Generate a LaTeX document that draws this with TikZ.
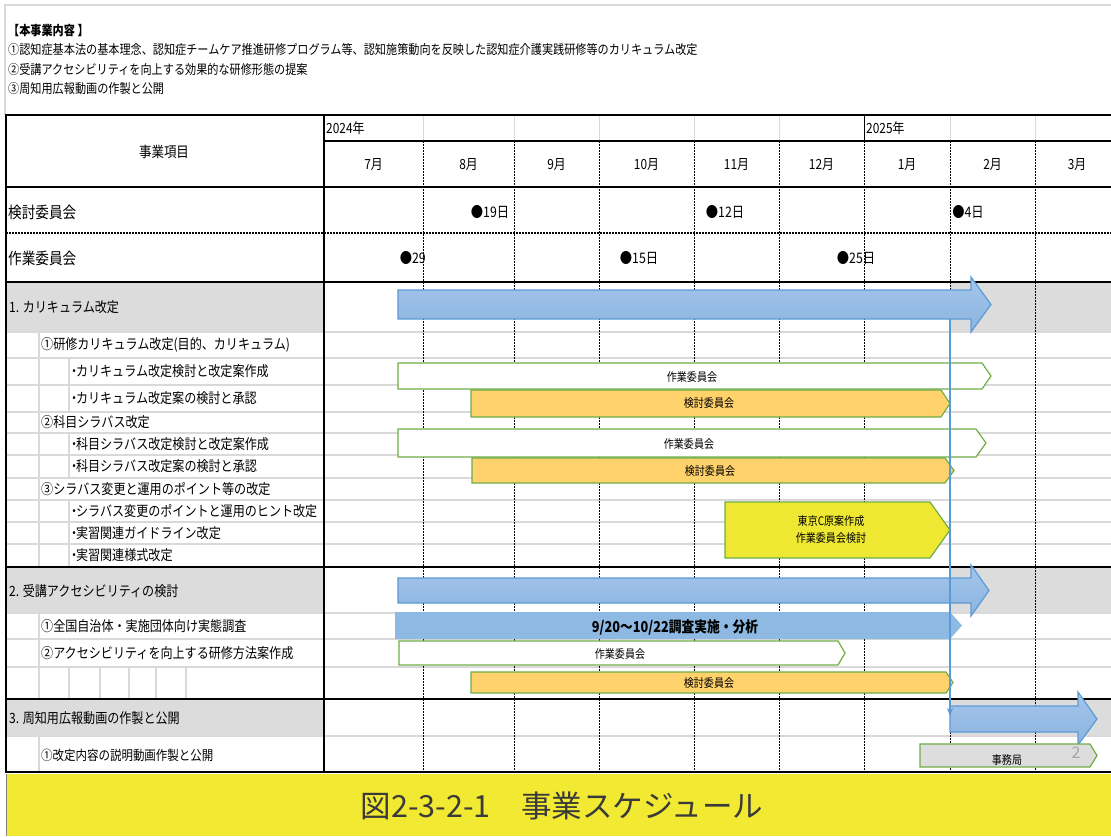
\documentclass[tikz,border=0pt]{standalone}
\usepackage{fontspec}
\setmainfont{Noto Sans CJK JP}
\newfontfamily\jp{Noto Sans CJK JP}[FakeStretch=0.85]
\newfontfamily\jpcap{Noto Sans CJK JP}
\usetikzlibrary{arrows.meta}
\definecolor{lgray}{HTML}{D9D9D9}
\definecolor{bandc}{HTML}{DCDCDC}
\definecolor{bblue}{HTML}{5B9BD5}
\definecolor{fblue}{HTML}{A3C6EA}
\definecolor{fblue2}{HTML}{8CB3E0}
\definecolor{sblue}{HTML}{8DB9E3}
\definecolor{gborder}{HTML}{70AD47}
\definecolor{orng}{HTML}{FFD26B}
\definecolor{ylw}{HTML}{EEE833}
\definecolor{capy}{HTML}{F2E933}
\definecolor{bgray}{HTML}{DDDDDD}
\definecolor{captxt}{HTML}{3A3A3A}
\newcommand{\gpent}[6]{\path[#1] (#2,#5) -- (#3,#5) -- (#4,{(#5+#6)/2}) -- (#3,#6) -- (#2,#6) -- cycle;}
\newcommand{\garrow}[8]{\path[#1] (#2,#5) -- (#3,#5) -- (#3,#7) -- (#4,{(#5+#6)/2}) -- (#3,#8) -- (#3,#6) -- (#2,#6) -- cycle;}
\newcommand{\bul}{・\hspace{-0.3em}}
\tikzset{
  hdr/.style={anchor=west, inner sep=0pt, font=\jp\fontsize{13.1}{15}\selectfont},
  hdrb/.style={anchor=west, inner sep=0pt, font=\jp\bfseries\fontsize{13.1}{15}\selectfont},
  lbl/.style={anchor=west, inner sep=0pt, font=\jp\fontsize{14.2}{16}\selectfont},
  lblS/.style={anchor=west, inner sep=0pt, font=\jp\fontsize{13.5}{16}\selectfont},
  lblB/.style={anchor=west, inner sep=0pt, font=\jp\fontsize{16}{18}\selectfont},
  mon/.style={inner sep=0pt, font=\jp\fontsize{14}{16}\selectfont},
  dat/.style={inner sep=0pt, font=\jp\fontsize{14.5}{16}\selectfont},
  barlbl/.style={inner sep=0pt, align=center, font=\jp\fontsize{11.8}{17}\selectfont},
  barlblb/.style={inner sep=0pt, font=\jp\bfseries\fontsize{15}{17}\selectfont},
  rowline/.style={draw=lgray, line width=2pt},
  vline/.style={draw=lgray, line width=1.5pt},
  mdash/.style={draw=black, line width=0.8pt, dash pattern=on 2pt off 1pt},
  thk/.style={draw=black, line width=2.5pt},
  wbar/.style={fill=white, draw=gborder, line width=1.2pt},
  obar/.style={fill=orng, draw=gborder, line width=1.2pt},
  ybar/.style={fill=ylw, draw=gborder, line width=1.2pt},
  gbar/.style={fill=bgray, draw=gborder, line width=1.2pt},
  sbar/.style={fill=sblue},
  bluearrow/.style={top color=fblue, bottom color=fblue2, draw=bblue, line width=1.2pt},
  conn/.style={draw=bblue, line width=1.6pt, -{Stealth[length=8pt,width=6pt]}},
}
\begin{document}
\begin{tikzpicture}[x=1pt,y=-1pt]
\useasboundingbox (0,0) rectangle (1111,836);
\fill[white] (0,0) rectangle (1111,836);
% top frame
\draw[lgray, line width=1.5pt] (5,115) -- (5,5) -- (1111,5);
% header text
\node[hdrb] (h0) at (8,31) {【本事業内容 】};
\node[hdr] (h1) at (8,50) {①認知症基本法の基本理念、認知症チームケア推進研修プログラム等、認知施策動向を反映した認知症介護実践研修等のカリキュラム改定};
\node[hdr] (h2) at (8,70) {②受講アクセシビリティを向上する効果的な研修形態の提案};
\node[hdr] (h3) at (8,89) {③周知用広報動画の作製と公開};
% bands
\fill[bandc] (6,282) rectangle (324,332); \fill[bandc] (950,282) rectangle (1111,332);
\fill[bandc] (6,567) rectangle (324,613); \fill[bandc] (950,567) rectangle (1111,613);
\fill[bandc] (6,699) rectangle (324,736); \fill[bandc] (950,699) rectangle (1111,736);
% light row lines
\foreach \y in {332,358,385,412,433,455,478,500,522,544,613,639,667,736}
  \draw[rowline] (6,\y) -- (1111,\y);
\draw[vline] (39,332) -- (39,567);
\draw[vline] (69,358) -- (69,412);
\draw[vline] (69,433) -- (69,478);
\draw[vline] (69,500) -- (69,567);
\draw[vline] (39,613) -- (39,699);
\foreach \x in {69,100,129,156,186} \draw[vline] (\x,667) -- (\x,699);
\draw[vline] (39,736) -- (39,772);
% year row verticals
\foreach \x in {423,514,599,694,779,950,1035} \draw[lgray, line width=0.8pt] (\x,115) -- (\x,141);
\draw[black, line width=0.8pt] (864,115) -- (864,141);
% month dashed verticals
\foreach \x in {423,514,599,694,779,864,950,1035} \draw[mdash] (\x,141) -- (\x,772);
% thick lines
\draw[thk] (4.75,115) -- (1111,115);
\draw[black, line width=1.8pt] (324,141) -- (1111,141);
\draw[thk] (6,187) -- (1111,187);
\draw[black, line width=1.8pt, dash pattern=on 2pt off 1pt] (6,233) -- (1111,233);
\draw[thk] (6,282) -- (1111,282);
\draw[thk] (6,567) -- (1111,567);
\draw[thk] (6,699) -- (1111,699);
\draw[thk] (4.75,772) -- (1111,772);
\draw[thk] (6,115) -- (6,772);
\draw[thk] (324,115) -- (324,772);
% header cells
\node[lbl, anchor=center, font=\jp\fontsize{14.7}{16}\selectfont] (colh) at (164,152) {事業項目};
\node[lbl, font=\jp\fontsize{14}{16}\selectfont] (y24) at (326,128) {2024年};
\node[lbl, font=\jp\fontsize{14}{16}\selectfont] (y25) at (866,128) {2025年};
\node[mon] (m7) at (373.5,165) {7月};
\node[mon] (m8) at (468.5,165) {8月};
\node[mon] (m9) at (556.5,165) {9月};
\node[mon] (m10) at (646.5,165) {10月};
\node[mon] (m11) at (736.5,165) {11月};
\node[mon] (m12) at (821.5,165) {12月};
\node[mon] (m1) at (907,165) {1月};
\node[mon] (m2) at (992.5,165) {2月};
\node[mon] (m3) at (1077,165) {3月};
% committee rows
\node[lblB] (kentou) at (8,212) {検討委員会};
\node[lblB] (sagyou) at (8,258) {作業委員会};
\node[dat] (d1) at (490,212) {●19日};
\node[dat] (d2) at (725,212) {●12日};
\node[dat] (d3) at (968,212) {●4日};
\node[dat, anchor=east] (d4) at (426,258) {●29};
\node[dat] (d5) at (639,258) {●15日};
\node[dat] (d6) at (856,258) {●25日};
% left column labels
\node[lbl] (s1) at (9,307) {1. カリキュラム改定};
\node[lbl] (s1a) at (41,345) {①研修カリキュラム改定(目的、カリキュラム)};
\node[lbl] (s1a1) at (68,371.5) {\bul カリキュラム改定検討と改定案作成};
\node[lbl] (s1a2) at (68,398) {\bul カリキュラム改定案の検討と承認};
\node[lbl] (s1b) at (41,422) {②科目シラバス改定};
\node[lbl] (s1b1) at (68,444) {\bul 科目シラバス改定検討と改定案作成};
\node[lbl] (s1b2) at (68,466.5) {\bul 科目シラバス改定案の検討と承認};
\node[lbl] (s1c) at (41,489) {③シラバス変更と運用のポイント等の改定};
\node[lbl] (s1c1) at (68,511) {\bul シラバス変更のポイントと運用のヒント改定};
\node[lbl] (s1c2) at (68,533) {\bul 実習関連ガイドライン改定};
\node[lbl] (s1c3) at (68,555.5) {\bul 実習関連様式改定};
\node[lbl] (s2) at (9,591) {2. 受講アクセシビリティの検討};
\node[lbl] (s2a) at (41,626) {①全国自治体・実施団体向け実態調査};
\node[lbl] (s2b) at (41,653) {②アクセシビリティを向上する研修方法案作成};
\node[lbl] (s3) at (9,718) {3. 周知用広報動画の作製と公開};
\node[lblS] (s3a) at (41,755) {①改定内容の説明動画作製と公開};
% bars
\garrow{bluearrow}{398}{971}{991}{290}{319}{277}{332}
\gpent{wbar}{398}{982}{991}{363}{389}
\gpent{obar}{471}{941}{950}{390}{417}
\gpent{wbar}{398}{976}{986}{429}{457}
\gpent{obar}{472}{945}{954}{458}{483}
\gpent{ybar}{725}{930}{950}{502}{558}
\garrow{bluearrow}{398}{971}{989}{578}{603}{565}{616}
\gpent{sbar}{395}{950}{962}{612}{639}
\gpent{wbar}{399}{838}{845}{641}{665}
\gpent{obar}{471}{946}{953}{672}{693}
\garrow{bluearrow}{950}{1078}{1097}{706}{732}{692}{745}
\gpent{gbar}{920}{1090}{1097}{744}{767}
% connector
\coordinate (cstart) at (950,319);
\coordinate (cend) at (950,716);
\draw[conn] (cstart) -- (cend);
% bar labels
\node[barlbl] (b1) at (692,377) {作業委員会};
\node[barlbl] (b2) at (709,403.5) {検討委員会};
\node[barlbl] (b3) at (689,444) {作業委員会};
\node[barlbl] (b4) at (710,471) {検討委員会};
\node[barlbl] (b5) at (831,530) {東京C原案作成\\作業委員会検討};
\node[barlblb] (b6) at (675,627) {9/20～10/22調査実施・分析};
\node[barlbl] (b7) at (620,654) {作業委員会};
\node[barlbl] (b8) at (709,683) {検討委員会};
\node[barlbl] (b9) at (1007,760) {事務局};
\node[inner sep=0pt, text=gray!70, font=\fontsize{16}{18}\selectfont] (pg) at (1076,753) {2};
% caption
\fill[capy] (6,774) rectangle (1111,836);
\draw[gray, line width=0.6pt] (6,836) -- (6,774);
\node[inner sep=0pt, text=captxt, font=\jpcap\fontsize{30.5}{33}\selectfont] (cap) at (562,806) {図2-3-2-1　事業スケジュール};
\end{tikzpicture}
\end{document}
